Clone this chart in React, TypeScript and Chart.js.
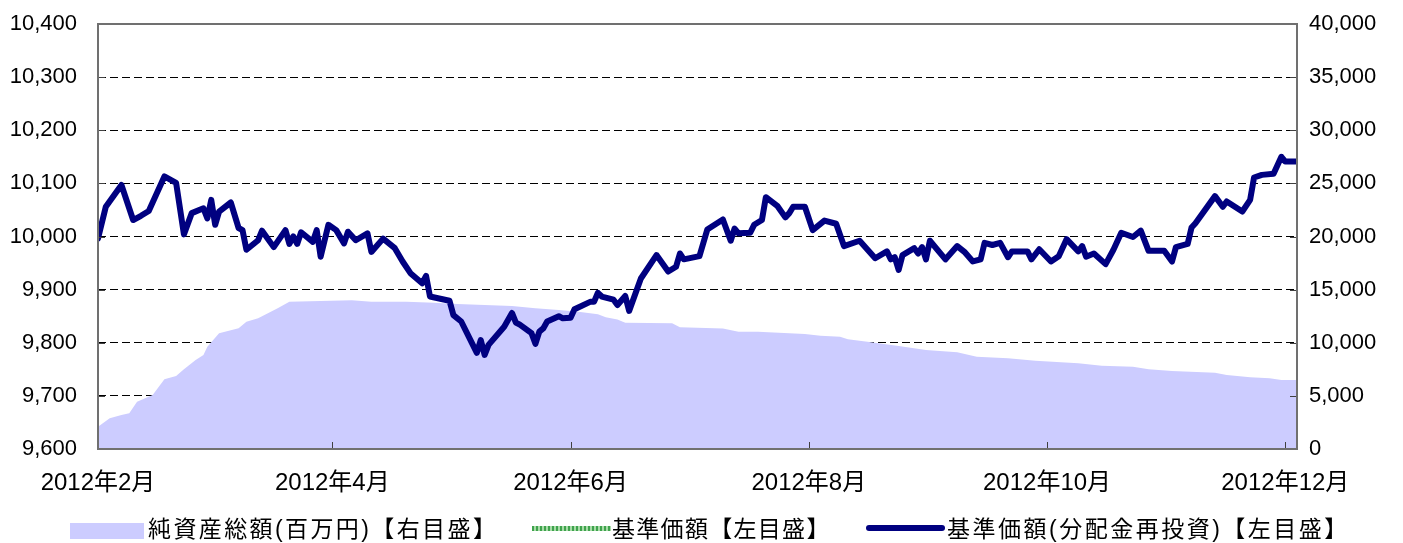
import React, { useEffect, useRef } from "react";
import { Chart, registerables } from "chart.js";

Chart.register(...registerables);

// ---- axis ticks ----
// x values are day offsets counted from 2012-02-01
const monthTickDays = [0, 60, 121, 182, 243, 304];
const monthTickLabels = ["2012年2月", "2012年4月", "2012年6月", "2012年8月", "2012年10月", "2012年12月"];
const leftAxisTicks = [9600, 9700, 9800, 9900, 10000, 10100, 10200, 10300, 10400];
const rightAxisTicks = [0, 5000, 10000, 15000, 20000, 25000, 30000, 35000, 40000];
const xMax = 307;

// ---- series labels ----
const seriesLabels = ["純資産総額(百万円)【右目盛】", "基準価額【左目盛】", "基準価額(分配金再投資)【左目盛】"];

// ---- NAV (基準価額 / 分配金再投資) ----
const navDays = [
  0, 2, 6, 9, 11, 13, 17, 20, 22, 24,
  27, 28, 29, 30, 31, 34, 36, 37, 38, 41,
  42, 45, 48, 49, 50, 51, 52, 55, 56, 57,
  59, 61, 63, 64, 66, 69, 70, 73, 76, 78,
  80, 83, 84, 85, 90, 91, 93, 97, 98, 99,
  100, 104, 106, 107, 108, 111, 112, 113, 114, 115,
  118, 119, 121, 122, 126, 127, 128, 129, 132, 133,
  135, 136, 139, 143, 146, 148, 149, 150, 154, 156,
  160, 162, 163, 164, 167, 168, 170, 171, 174, 176,
  177, 178, 181, 183, 186, 189, 191, 195, 199, 202,
  203, 204, 205, 206, 209, 210, 211, 212, 213, 217,
  220, 222, 224, 226, 227, 229, 231, 233, 234, 238,
  239, 241, 244, 246, 248, 251, 252, 253, 255, 258,
  260, 262, 265, 267, 269, 273, 275, 276, 279, 280,
  281, 286, 288, 289, 293, 295, 296, 298, 301, 303,
  304, 307,
];
const navReinvested = [
  9996, 10056, 10097, 10031, 10039, 10048, 10113, 10101, 10004, 10044,
  10053, 10034, 10069, 10022, 10047, 10064, 10016, 10012, 9975, 9993,
  10011, 9980, 10012, 9986, 10000, 9986, 10008, 9990, 10012, 9962,
  10022, 10012, 9987, 10009, 9993, 10006, 9971, 9996, 9978, 9953,
  9931, 9912, 9926, 9887, 9879, 9852, 9840, 9781, 9805, 9777,
  9796, 9830, 9856, 9838, 9834, 9818, 9798, 9821, 9827, 9840,
  9850, 9846, 9847, 9863, 9877, 9877, 9894, 9887, 9881, 9871,
  9888, 9860, 9921, 9965, 9934, 9943, 9968, 9957, 9963, 10013,
  10032, 9992, 10015, 10006, 10007, 10022, 10031, 10074, 10057, 10036,
  10044, 10056, 10056, 10012, 10030, 10024, 9982, 9992, 9959, 9972,
  9957, 9961, 9937, 9965, 9978, 9968, 9980, 9957, 9992, 9957,
  9982, 9970, 9953, 9957, 9988, 9984, 9988, 9961, 9972, 9972,
  9957, 9976, 9953, 9963, 9995, 9972, 9982, 9962, 9968, 9948,
  9975, 10007, 9999, 10011, 9973, 9973, 9953, 9980, 9986, 10017,
  10025, 10076, 10056, 10066, 10047, 10069, 10111, 10116, 10118, 10150,
  10141, 10141,
];
// no distributions in the period: 基準価額 coincides with the reinvested line (hidden under it)
const navBase = navReinvested;

// ---- net assets (純資産総額, 百万円) ----
const assetDays = [
  0, 3, 6, 8, 10, 14, 17, 20, 22, 25,
  27, 28, 31, 36, 38, 41, 43, 46, 49, 57,
  65, 70, 79, 86, 92, 106, 112, 118, 123, 128,
  130, 133, 135, 147, 149, 160, 164, 169, 181, 185,
  190, 192, 197, 205, 212, 220, 225, 233, 240, 251,
  257, 265, 269, 275, 286, 289, 295, 300, 303, 307,
];
const assetValues = [
  2100, 2890, 3200, 3360, 4450, 5080, 6560, 6870, 7500, 8380,
  8850, 9630, 10890, 11360, 11980, 12300, 12680, 13240, 13860, 13930,
  14000, 13860, 13860, 13770, 13650, 13460, 13240, 13080, 12920, 12680,
  12390, 12200, 11890, 11830, 11450, 11330, 11040, 11040, 10820, 10660,
  10570, 10320, 10100, 9690, 9320, 9100, 8690, 8540, 8310, 8060,
  7840, 7750, 7500, 7340, 7180, 6960, 6750, 6650, 6490, 6490,
];

const FONT = '"Liberation Sans", "Noto Sans CJK JP", sans-serif';
const AREA_COLOR = "#ccccff";
const NAVY = "#000080";
const GREEN = "#5cb85c";

const toPoints = (xs: number[], ys: number[]) => xs.map((x, i) => ({ x, y: ys[i] }));

const frameTicksPlugin = {
  id: "frameTicks",
  afterDatasetsDraw(chart: any) {
    const { ctx, chartArea, scales } = chart;
    const { left, right, top, bottom } = chartArea;
    ctx.save();
    ctx.strokeStyle = "#404040";
    ctx.lineWidth = 1;
    ctx.setLineDash([]);
    ctx.beginPath();
    monthTickDays.forEach((d) => {
      const x = Math.round(scales.x.getPixelForValue(d)) + 0.5;
      ctx.moveTo(x, bottom);
      ctx.lineTo(x, bottom - 7);
    });
    rightAxisTicks.forEach((v) => {
      const y = Math.round(scales.y2.getPixelForValue(v)) + 0.5;
      ctx.moveTo(right, y);
      ctx.lineTo(right - 7, y);
    });
    leftAxisTicks.forEach((v) => {
      const y = Math.round(scales.y.getPixelForValue(v)) + 0.5;
      ctx.moveTo(left, y);
      ctx.lineTo(left + 7, y);
    });
    ctx.stroke();
    ctx.strokeStyle = "#707070";
    ctx.lineWidth = 2;
    ctx.strokeRect(left, top, right - left, bottom - top);
    ctx.restore();
  },
};

const fitVertical = (width: number) => (scale: any) => {
  scale.width = width;
  scale.paddingTop = 0;
  scale.paddingBottom = 0;
};

export default function App() {
  const canvasRef = useRef<HTMLCanvasElement | null>(null);

  useEffect(() => {
    if (!canvasRef.current) return;
    const chart = new Chart(canvasRef.current, {
      type: "line",
      data: {
        datasets: [
          {
            label: seriesLabels[2],
            data: toPoints(navDays, navReinvested),
            yAxisID: "y",
            borderColor: NAVY,
            borderWidth: 6,
            pointRadius: 0,
            fill: false,
            tension: 0,
            borderJoinStyle: "round",
            borderCapStyle: "round",
            order: 0,
          },
          {
            label: seriesLabels[1],
            data: toPoints(navDays, navBase),
            yAxisID: "y",
            borderColor: GREEN,
            borderWidth: 3,
            pointRadius: 0,
            fill: false,
            tension: 0,
            borderJoinStyle: "round",
            borderCapStyle: "round",
            order: 1,
          },
          {
            label: seriesLabels[0],
            data: toPoints(assetDays, assetValues),
            yAxisID: "y2",
            borderWidth: 0,
            borderColor: AREA_COLOR,
            backgroundColor: AREA_COLOR,
            pointRadius: 0,
            fill: "origin",
            tension: 0,
            order: 2,
          },
        ],
      },
      options: {
        animation: false,
        responsive: false,
        devicePixelRatio: 1,
        events: [],
        layout: { padding: { top: 24, left: 0, right: 0, bottom: 0 } },
        plugins: {
          legend: { display: false },
          tooltip: { enabled: false },
        },
        scales: {
          x: {
            type: "linear",
            min: 0,
            max: xMax,
            offset: false,
            afterBuildTicks: (scale: any) => {
              scale.ticks = monthTickDays.map((value) => ({ value }));
            },
            afterFit: (scale: any) => {
              scale.height = 94;
            },
            grid: { display: false, drawTicks: false },
            border: { display: false },
            ticks: {
              autoSkip: false,
              maxRotation: 0,
              padding: 20,
              color: "#000",
              font: { family: FONT, size: 24 },
              callback: (value: any) => monthTickLabels[monthTickDays.indexOf(Number(value))],
            },
          },
          y: {
            type: "linear",
            position: "left",
            min: leftAxisTicks[0],
            max: leftAxisTicks[leftAxisTicks.length - 1],
            afterBuildTicks: (scale: any) => {
              scale.ticks = leftAxisTicks.map((value) => ({ value }));
            },
            afterFit: fitVertical(98),
            grid: { color: "#000", lineWidth: 1, drawTicks: false },
            border: { display: false, dash: [8, 4] },
            ticks: {
              padding: 21,
              color: "#000",
              font: { family: FONT, size: 22 },
              callback: (value: any) => Number(value).toLocaleString("en-US"),
            },
          },
          y2: {
            type: "linear",
            position: "right",
            min: rightAxisTicks[0],
            max: rightAxisTicks[rightAxisTicks.length - 1],
            afterBuildTicks: (scale: any) => {
              scale.ticks = rightAxisTicks.map((value) => ({ value }));
            },
            afterFit: fitVertical(106),
            grid: { drawOnChartArea: false, drawTicks: false },
            border: { display: false },
            ticks: {
              padding: 12,
              color: "#000",
              font: { family: FONT, size: 22 },
              callback: (value: any) => Number(value).toLocaleString("en-US"),
            },
          },
        },
      },
      plugins: [frameTicksPlugin],
    } as any);
    return () => chart.destroy();
  }, []);

  const legendText: React.CSSProperties = {
    position: "absolute",
    top: 514,
    height: 30,
    lineHeight: "30px",
    fontFamily: FONT,
    fontSize: 23,
    color: "#000",
    whiteSpace: "nowrap",
  };

  return (
    <div style={{ position: "fixed", left: 0, top: 0, width: 1403, height: 543, overflow: "hidden", background: "#fff" }}>
      <canvas ref={canvasRef} width={1403} height={543} style={{ display: "block", width: 1403, height: 543 }} />
      <div style={{ position: "absolute", left: 70, top: 523, width: 74, height: 16, background: AREA_COLOR }} />
      <div style={{ ...legendText, left: 148, letterSpacing: 2.4 }}>{seriesLabels[0]}</div>
      <div
        style={{
          position: "absolute",
          left: 532,
          top: 526,
          width: 79,
          height: 5,
          background: `repeating-linear-gradient(90deg, #3fa34d 0px, #3fa34d 2px, #a8dca8 2px, #a8dca8 4px)`,
        }}
      />
      <div style={{ ...legendText, left: 612, letterSpacing: 1.3 }}>{seriesLabels[1]}</div>
      <div style={{ position: "absolute", left: 866, top: 525, width: 79, height: 6, borderRadius: 3, background: NAVY }} />
      <div style={{ ...legendText, left: 947, letterSpacing: 2.5 }}>{seriesLabels[2]}</div>
    </div>
  );
}
